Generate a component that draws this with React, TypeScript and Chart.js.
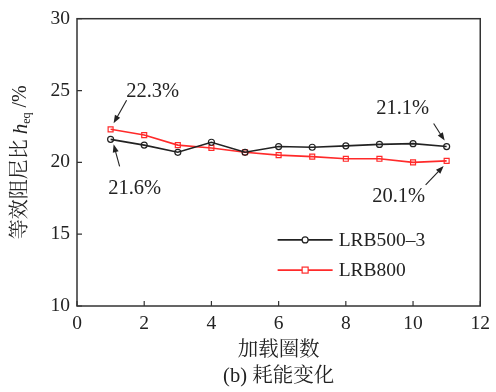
import React, { useEffect, useRef } from "react";
import { Chart, registerables } from "chart.js";

Chart.register(...registerables);

// Loading cycle number and equivalent damping ratio (%) per bearing
const cycles = [1, 2, 3, 4, 5, 6, 7, 8, 9, 10, 11];
const lrb500 = [21.6, 21.2, 20.7, 21.4, 20.7, 21.1, 21.05, 21.15, 21.25, 21.3, 21.1];
const lrb800 = [22.3, 21.9, 21.2, 21.0, 20.7, 20.5, 20.4, 20.25, 20.25, 20.0, 20.1];

const seriesNames = ["LRB500\u20133", "LRB800"];
const seriesColors = ["#222222", "#ff2a2a"];
const xTicks = [0, 2, 4, 6, 8, 10, 12];
const yTicks = [10, 15, 20, 25, 30];

const xTitle = "加载圈数";
const caption = "(b) 耗能变化";

// Callouts: series index, point index, label, arrow tail / text offsets from the point (px)
const callouts = [
  { s: 1, i: 0, text: "22.3%", tip: [3, -6], tail: [16, -29], label: [42, -38] },
  { s: 0, i: 0, text: "21.6%", tip: [3, 5], tail: [9, 27], label: [24, 49] },
  { s: 0, i: 10, text: "21.1%", tip: [-2, -6], tail: [-13, -23], label: [-44, -38] },
  { s: 1, i: 10, text: "20.1%", tip: [-3, 5], tail: [-21, 24], label: [-48, 36] },
];

const FONT = "'Liberation Serif', 'Times New Roman', 'Noto Serif CJK SC', 'Noto Sans CJK SC', serif";
const AXIS = "#333333";

function arrow(ctx: CanvasRenderingContext2D, x0: number, y0: number, x1: number, y1: number) {
  const ang = Math.atan2(y1 - y0, x1 - x0);
  const head = 8;
  const w = 3;
  ctx.beginPath();
  ctx.moveTo(x0, y0);
  ctx.lineTo(x1 - Math.cos(ang) * head * 0.8, y1 - Math.sin(ang) * head * 0.8);
  ctx.stroke();
  ctx.beginPath();
  ctx.moveTo(x1, y1);
  ctx.lineTo(x1 - Math.cos(ang) * head - Math.sin(ang) * w, y1 - Math.sin(ang) * head + Math.cos(ang) * w);
  ctx.lineTo(x1 - Math.cos(ang) * head + Math.sin(ang) * w, y1 - Math.sin(ang) * head - Math.cos(ang) * w);
  ctx.closePath();
  ctx.fill();
}

const decorPlugin = {
  id: "decor",
  afterDraw(chart: any) {
    const { ctx, chartArea: a, scales } = chart;
    const xs = scales.x;
    const ys = scales.y;
    ctx.save();

    // frame and inward ticks
    ctx.strokeStyle = AXIS;
    ctx.lineWidth = 1.5;
    ctx.strokeRect(a.left, a.top, a.right - a.left, a.bottom - a.top);
    ctx.lineWidth = 1.2;
    ctx.beginPath();
    xTicks.forEach((v) => {
      const px = xs.getPixelForValue(v);
      ctx.moveTo(px, a.bottom);
      ctx.lineTo(px, a.bottom - 5);
    });
    yTicks.forEach((v) => {
      const py = ys.getPixelForValue(v);
      ctx.moveTo(a.left, py);
      ctx.lineTo(a.left + 5, py);
    });
    ctx.stroke();

    // callouts
    ctx.fillStyle = "#222";
    ctx.strokeStyle = "#222";
    ctx.lineWidth = 1.1;
    ctx.font = `20.5px ${FONT}`;
    ctx.textAlign = "center";
    ctx.textBaseline = "middle";
    callouts.forEach((c) => {
      const data = c.s === 0 ? lrb500 : lrb800;
      const px = xs.getPixelForValue(cycles[c.i]);
      const py = ys.getPixelForValue(data[c.i]);
      arrow(ctx, px + c.tail[0], py + c.tail[1], px + c.tip[0], py + c.tip[1]);
      ctx.fillText(c.text, px + c.label[0], py + c.label[1]);
    });

    // legend
    const lx0 = xs.getPixelForValue(6) - 1;
    const ly = [ys.getPixelForValue(14.6), ys.getPixelForValue(12.5)];
    ctx.textAlign = "left";
    ctx.font = `19.5px ${FONT}`;
    seriesNames.forEach((name, k) => {
      const y = ly[k];
      ctx.strokeStyle = seriesColors[k];
      ctx.lineWidth = 1.6;
      ctx.beginPath();
      ctx.moveTo(lx0, y);
      ctx.lineTo(lx0 + 55, y);
      ctx.stroke();
      ctx.fillStyle = "#fff";
      ctx.lineWidth = 1.2;
      if (k === 0) {
        ctx.beginPath();
        ctx.arc(lx0 + 27.5, y, 3, 0, Math.PI * 2);
        ctx.fill();
        ctx.stroke();
      } else {
        ctx.fillRect(lx0 + 24.5, y - 3, 6, 6);
        ctx.strokeRect(lx0 + 24.5, y - 3, 6, 6);
      }
      ctx.fillStyle = "#222";
      ctx.fillText(name, lx0 + 61, y + 1);
    });

    // axis titles
    const cx = (a.left + a.right) / 2;
    ctx.textAlign = "center";
    ctx.font = `20.5px ${FONT}`;
    ctx.fillText(xTitle, cx, a.bottom + 45);
    ctx.fillText(caption, cx, a.bottom + 71);

    // y title with italic h and subscript eq
    ctx.save();
    ctx.translate(21, (a.top + a.bottom) / 2);
    ctx.rotate(-Math.PI / 2);
    const parts: [string, string, number][] = [
      ["等效阻尼比 ", `20px ${FONT}`, 0],
      ["h", `italic 21px ${FONT}`, 0],
      ["eq", `12px ${FONT}`, 6],
      [" /%", `20px ${FONT}`, 0],
    ];
    let total = 0;
    parts.forEach(([t, f]) => {
      ctx.font = f;
      total += ctx.measureText(t).width;
    });
    let x = -total / 2;
    ctx.textAlign = "left";
    parts.forEach(([t, f, dy]) => {
      ctx.font = f;
      ctx.fillText(t, x, dy);
      x += ctx.measureText(t).width;
    });
    ctx.restore();

    ctx.restore();
  },
};

export default function App() {
  const ref = useRef<HTMLCanvasElement>(null);

  useEffect(() => {
    document.body.style.margin = "0";
    const canvas = ref.current!;
    const chart = new Chart(canvas, {
      type: "line",
      data: {
        datasets: [
          {
            label: seriesNames[0],
            data: cycles.map((c, i) => ({ x: c, y: lrb500[i] })),
            borderColor: seriesColors[0],
            backgroundColor: "rgba(255,255,255,0)",
            borderWidth: 1.6,
            pointStyle: "circle",
            pointRadius: 3,
            pointBorderWidth: 1.2,
            pointBorderColor: seriesColors[0],
            pointBackgroundColor: "rgba(255,255,255,0)",
          },
          {
            label: seriesNames[1],
            data: cycles.map((c, i) => ({ x: c, y: lrb800[i] })),
            borderColor: seriesColors[1],
            backgroundColor: "rgba(255,255,255,0)",
            borderWidth: 1.6,
            pointStyle: "rect",
            pointRadius: 3.5,
            pointBorderWidth: 1.2,
            pointBorderColor: seriesColors[1],
            pointBackgroundColor: "rgba(255,255,255,0)",
          },
        ],
      },
      options: {
        animation: false,
        responsive: false,
        events: [],
        layout: { padding: { top: 13, right: 15, left: 0, bottom: 0 } },
        plugins: { legend: { display: false }, tooltip: { enabled: false } },
        scales: {
          x: {
            type: "linear",
            min: 0,
            max: 12,
            border: { display: false },
            grid: { display: false, drawTicks: false },
            afterBuildTicks: (s: any) => {
              s.ticks = xTicks.map((v) => ({ value: v }));
            },
            afterFit: (s: any) => {
              s.height = 86;
            },
            ticks: { color: "#222", padding: 6, font: { family: FONT, size: 19.5 }, maxRotation: 0 },
          },
          y: {
            type: "linear",
            min: 10,
            max: 30,
            border: { display: false },
            grid: { display: false, drawTicks: false },
            afterBuildTicks: (s: any) => {
              s.ticks = yTicks.map((v) => ({ value: v }));
            },
            afterFit: (s: any) => {
              s.width = 77;
            },
            ticks: { color: "#222", padding: 7, font: { family: FONT, size: 19.5 } },
          },
        },
      },
      plugins: [decorPlugin],
    });
    return () => chart.destroy();
  }, []);

  return <canvas ref={ref} width={496} height={392} style={{ display: "block" }} />;
}
